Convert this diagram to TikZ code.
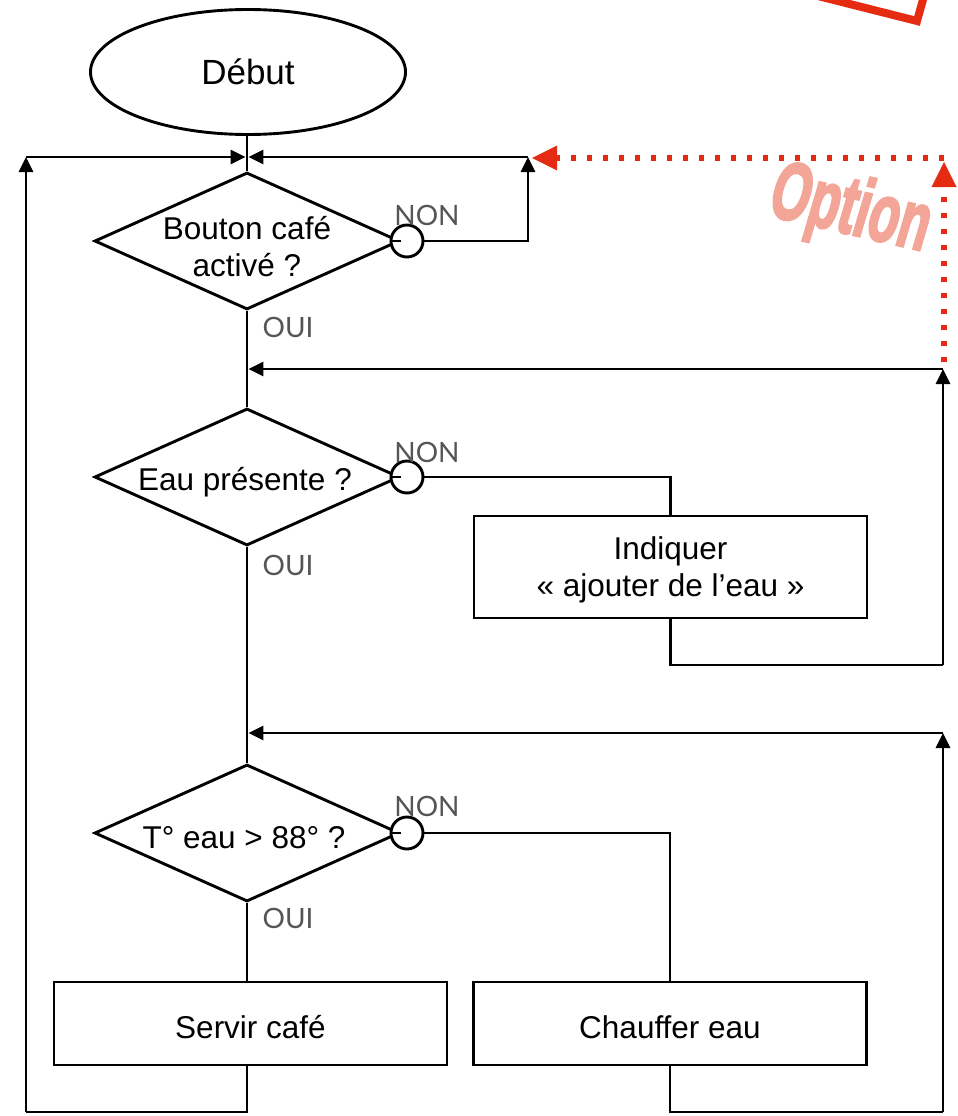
\documentclass[tikz,border=0pt]{standalone}
\usepackage{fontspec}
\usepackage{graphicx}
\setmainfont{Liberation Sans}
\newfontfamily\gillfont{Lato}
\newfontfamily\impactfont[UprightFont={* Bold}, FakeBold=3.5, FakeSlant=0.1]{Liberation Sans}
\usetikzlibrary{shapes.geometric,arrows.meta}
\definecolor{optred}{HTML}{E52B12}
\definecolor{optpink}{HTML}{F3A597}
\definecolor{labgrey}{HTML}{555555}
\tikzset{
  flow/.style={line width=2.9pt, line join=miter},
  arr/.style={flow, -{Triangle[length=15pt,width=14pt]}},
  redarr/.style={line width=5.5pt, optred, dash pattern=on 5.5pt off 10.5pt, -{Triangle[length=25pt,width=25pt,line width=0pt]}},
  decision/.style={diamond, draw, line width=2.9pt, minimum width=305pt, minimum height=137pt, inner sep=0pt},
  procbox/.style={rectangle, draw, line width=2.9pt, minimum width=393pt, minimum height=83pt, inner sep=0pt},
  junction/.style={circle, draw, fill=white, line width=2.9pt, minimum size=32pt, inner sep=0pt},
  maintext/.style={font=\fontsize{31.5}{37}\selectfont, align=center},
  yesno/.style={font=\gillfont\fontsize{28}{30}\selectfont, text=labgrey, inner sep=0pt}
}
\begin{document}
\begin{tikzpicture}[x=1pt,y=-1pt]
\useasboundingbox (0,0) rectangle (958,1116);

% start
\node[ellipse, draw, line width=2.9pt, minimum width=315pt, minimum height=125pt, inner sep=0pt,
      font=\fontsize{35}{40}\selectfont] (debut) at (248,72) {Début};

% decisions
\node[decision] (d1) at (247,241) {};
\node[maintext] (d1t) at (247,247) {Bouton café\\activé ?};
\node[decision] (d2) at (247,477) {};
\node[maintext] (d2t) at (245,482) {Eau présente ?};
\node[decision] (d3) at (247,833) {};
\node[maintext] (d3t) at (244,838) {T° eau > 88° ?};

% junction circles
\node[junction] (c1) at (407,241) {};
\node[junction] (c2) at (407,477) {};
\node[junction] (c3) at (407,833) {};

% boxes
\node[procbox, minimum height=102pt] (ind) at (670.5,567) {};
\node[maintext] (indt) at (670.5,570) {Indiquer\\« ajouter de l’eau »};
\node[procbox] (serv) at (250.5,1023.5) {};
\node[maintext] (servt) at (250.5,1027) {Servir café};
\node[procbox] (chauf) at (670,1023.5) {};
\node[maintext] (chauft) at (670,1027) {Chauffer eau};

% labels
\node[yesno] (non1) at (427,215) {NON};
\node[yesno] (non2) at (427,452) {NON};
\node[yesno] (non3) at (427,806) {NON};
\node[yesno] (oui1) at (288,327) {OUI};
\node[yesno] (oui2) at (288,565) {OUI};
\node[yesno] (oui3) at (288,918) {OUI};

% coordinates
\coordinate (m1) at (247,157);
\coordinate (m2) at (247,369);
\coordinate (m3) at (247,733);
\coordinate (r1) at (528,157);
\coordinate (r2) at (943,369);
\coordinate (r3) at (943,733);
\coordinate (bl) at (26,1112);
\coordinate (tl) at (26,157);
\coordinate (br) at (943,1112);
\coordinate (mr) at (943,665);

% main trunk
\draw[flow] (d1.north |- debut.south) -- (d1.north);
\draw[flow] (d1.south) -- (d2.north);
\draw[flow] (d2.south) -- (d3.north);
\draw[flow] (d3.south) -- (d3.south |- serv.north);
\draw[flow] (d1.east) -- (c1.west);
\draw[flow] (d2.east) -- (c2.west);
\draw[flow] (d3.east) -- (c3.west);

% loop 1 (NON button)
\draw[arr] (c1.east) -| (r1);
\draw[arr, shorten >=1.4pt] (r1) -- (m1);

% loop from Servir back to top
\draw[flow] (d3.south |- serv.south) |- (bl);
\draw[arr] (bl) -- (tl);
\draw[arr, shorten >=1.4pt] (tl) -- (m1);

% water loop
\draw[flow] (c2.east) -| (ind.north);
\draw[flow] (ind.south) |- (mr);
\draw[arr] (mr) -- (r2);
\draw[arr, shorten >=1.4pt] (r2) -- (m2);

% heating loop
\draw[flow] (c3.east) -| (chauf.north);
\draw[flow] (chauf.south) |- (br);
\draw[arr] (br) -- (r3);
\draw[arr, shorten >=1.4pt] (r3) -- (m3);

% option (red dotted)
\coordinate (o1) at (944,362);
\coordinate (o2) at (944,162);
\coordinate (o3) at (944,158);
\coordinate (o4) at (532,158);
\draw[redarr] (o1) -- (o2);
\draw[redarr] (o3) -- (o4);
\node[text=optpink, rotate=-13, inner sep=0pt,
      font=\impactfont\fontsize{82}{82}\selectfont] (opt) at (849,212)
      {\scalebox{0.61}[1]{Option}};

% red stamp frame (cropped)
\draw[optred, line width=8pt, line join=miter] (818,-4) -- (917,21) -- (924,-4);
\end{tikzpicture}
\end{document}
